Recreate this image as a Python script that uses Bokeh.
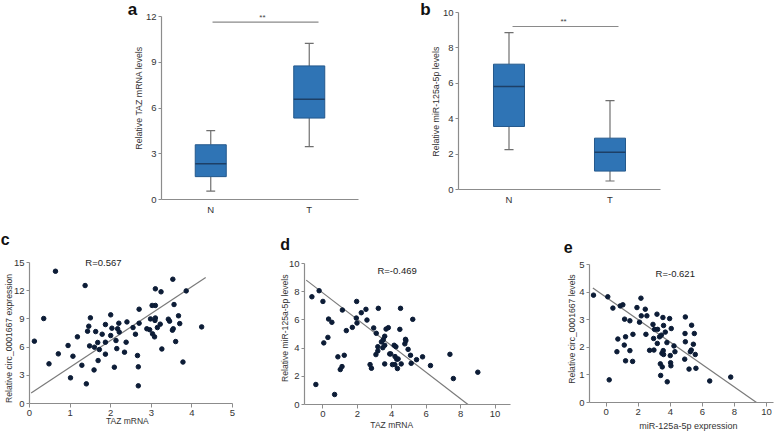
import math
from bokeh.plotting import figure
from bokeh.layouts import column, row
from bokeh.models import Label, FixedTicker
from bokeh.embed import file_html
from bokeh.resources import INLINE

FONT = "Liberation Sans"
AX = "#8c8c8c"
TXT = "#333333"
BOX_FILL = "#2f74b5"
BOX_EDGE = "#24598c"
MED = "#1d3f66"
WHISK = "#6f6f6f"
DOT = "#0c1c36"
FIT = "#7a7a7a"

# ---------------- data ----------------
groups = ["N", "T"]

a_low = [0.55, 3.47]
a_q1 = [1.50, 5.34]
a_med = [2.34, 6.58]
a_q3 = [3.59, 8.76]
a_high = [4.51, 10.24]
a_ticks = [0, 3, 6, 9, 12]
a_ylabel = "Relative  TAZ  mRNA levels"

b_low = [2.25, 0.48]
b_q1 = [3.56, 1.04]
b_med = [5.82, 2.11]
b_q3 = [7.08, 2.90]
b_high = [8.86, 5.02]
b_ticks = [0, 2, 4, 6, 8, 10]
b_ylabel = "Relative  miR-125a-5p  levels"

sig_text = "**"

c_x = [0.12, 0.35, 0.64, 0.48, 0.71, 0.95, 1.07, 1.18, 1.01, 1.29, 1.37, 1.40, 1.46, 1.43, 1.50,
       1.48, 1.60, 1.59, 1.63, 1.68, 1.72, 1.69, 1.79, 1.87, 1.87, 1.87, 2.00, 2.03, 2.00, 2.09,
       2.13, 2.15, 2.17, 2.20, 2.21, 2.34, 2.38, 2.40, 2.55, 2.61, 2.66, 2.68, 2.68, 2.70, 2.70,
       2.89, 2.96, 2.98, 3.03, 3.02, 3.10, 3.10, 3.08, 3.09, 3.10, 3.15, 3.22, 3.24, 3.26, 3.42,
       3.45, 3.53, 3.52, 3.54, 3.56, 3.60, 3.67, 3.70, 3.78, 3.86, 4.24]
c_y = [6.63, 9.04, 14.07, 4.22, 5.28, 6.17, 5.03, 7.09, 2.73, 4.07, 12.55, 2.09, 8.22, 7.69, 9.11,
       6.13, 5.99, 3.57, 7.65, 6.49, 5.74, 4.57, 7.37, 8.40, 6.52, 5.25, 9.43, 8.01, 7.23, 3.86,
       6.70, 5.84, 7.95, 8.54, 7.60, 5.46, 6.52, 8.68, 8.08, 7.37, 5.10, 3.90, 1.88, 10.03, 8.54,
       7.95, 7.85, 9.00, 7.41, 10.43, 10.43, 12.20, 7.09, 8.84, 9.10, 8.08, 8.44, 11.88, 5.80, 8.97,
       8.76, 13.22, 7.80, 7.95, 10.53, 6.59, 9.33, 8.50, 4.41, 11.98, 8.15]
c_fit_x = [0.04, 4.34]
c_fit_y = [1.13, 13.40]
c_r = "R=0.567"
c_xticks = [0, 1, 2, 3, 4, 5]
c_yticks = [0, 3, 6, 9, 12, 15]
c_xlabel = "TAZ mRNA"
c_ylabel = "Relative circ_0001667  expression"

d_x = [-0.64, -0.22, 0.00, -0.41, 0.05, 0.29, 0.33, 0.52, 0.68, 0.87, 1.01, 1.11, 1.13, 1.24, 1.36,
       1.71, 1.96, 1.94, 1.98, 2.23, 2.50, 2.56, 2.74, 2.82, 2.95, 3.08, 3.10, 3.22, 3.19, 3.19,
       3.40, 3.48, 3.51, 3.59, 3.59, 3.59, 3.67, 3.80, 3.88, 3.94, 4.04, 4.18, 4.14, 4.19, 4.24,
       4.29, 4.33, 4.37, 4.47, 4.51, 4.55, 4.76, 4.80, 4.82, 4.95, 5.09, 5.13, 5.22, 5.44, 5.79,
       6.25, 7.38, 7.58, 9.00]
d_y = [7.64, 8.07, 7.31, 1.42, 4.37, 4.76, 6.06, 5.83, 0.71, 3.38, 2.48, 2.69, 6.70, 3.49, 5.24,
       5.47, 7.31, 6.13, 5.78, 6.51, 6.75, 5.99, 2.83, 2.57, 5.43, 3.54, 5.05, 6.82, 3.80, 4.10,
       4.44, 4.03, 4.60, 4.84, 4.20, 2.88, 5.35, 5.45, 3.59, 3.59, 2.83, 2.83, 4.20, 3.40, 4.10,
       3.21, 2.55, 3.23, 5.33, 6.82, 2.88, 4.30, 4.62, 4.53, 3.91, 3.49, 2.92, 6.04, 3.18, 3.38,
       2.76, 3.56, 1.84, 2.29]
d_fit_x = [-0.97, 8.43]
d_fit_y = [8.82, 0.0]
d_r = "R=-0.469"
d_xticks = [0, 2, 4, 6, 8, 10]
d_yticks = [0, 2, 4, 6, 8, 10]
d_xlabel = "TAZ mRNA"
d_ylabel = "Relative miR-125a-5p levels"

e_x = [-0.79, 0.10, 0.19, 0.42, 0.67, 0.73, 0.88, 1.04, 1.15, 1.13, 1.21, 1.21, 1.48, 1.48, 1.67,
       1.65, 1.92, 2.08, 2.17, 2.19, 2.44, 2.54, 2.48, 2.71, 2.92, 2.96, 3.02, 2.98, 3.17, 3.19,
       3.21, 3.33, 3.38, 3.40, 3.44, 3.48, 3.50, 3.54, 3.58, 3.56, 3.58, 3.69, 3.79, 3.81, 3.96,
       4.00, 4.02, 4.04, 4.06, 4.23, 4.29, 4.94, 4.92, 4.94, 4.90, 5.17, 5.33, 5.31, 5.25, 5.44,
       5.50, 5.56, 5.60, 6.46, 7.77]
e_y = [3.89, 3.83, 0.82, 3.42, 1.84, 2.30, 3.50, 3.54, 3.02, 2.08, 2.38, 1.51, 2.96, 1.88, 2.47,
       1.49, 3.44, 2.91, 3.78, 3.14, 3.38, 3.14, 2.47, 1.89, 2.83, 2.32, 2.65, 1.90, 3.20, 2.14,
       2.65, 2.38, 1.40, 0.98, 2.44, 1.78, 1.29, 3.08, 2.79, 1.88, 1.74, 2.55, 2.17, 0.75, 3.04,
       1.70, 1.44, 1.33, 2.68, 2.05, 1.84, 3.10, 2.50, 2.20, 1.57, 1.21, 2.80, 1.90, 1.84, 2.11,
       2.50, 1.74, 1.24, 0.78, 0.92]
e_fit_x = [-0.83, 9.38]
e_fit_y = [4.15, 0.0]
e_r = "R=-0.621"
e_xticks = [0, 2, 4, 6, 8, 10]
e_yticks = [0, 1, 2, 3, 4, 5]
e_xlabel = "miR-125a-5p expression"
e_ylabel = "Relative circ_0001667 levels"


# ---------------- helpers ----------------
def style(p, xticks, yticks, x_tick_out=4):
    p.outline_line_color = None
    p.grid.visible = False
    p.background_fill_color = "white"
    p.border_fill_color = "white"
    p.xaxis.ticker = FixedTicker(ticks=xticks)
    p.yaxis.ticker = FixedTicker(ticks=yticks)
    for ax in (p.xaxis[0], p.yaxis[0]):
        ax.axis_line_color = AX
        ax.axis_line_width = 1.2
        ax.major_tick_line_color = AX
        ax.minor_tick_line_color = None
        ax.major_tick_in = 0
        ax.major_tick_out = 4
        ax.major_label_text_font = FONT
        ax.major_label_text_font_size = "9.5px"
        ax.major_label_text_color = TXT
        ax.axis_label = None
    xa, ya = p.xaxis[0], p.yaxis[0]
    xa.major_tick_out = x_tick_out
    xa.major_label_standoff = 2
    ya.major_tick_out = 3
    ya.major_label_standoff = 2


def side_label(p, place, txt, x, y, size, bold=False, baseline="middle", color="#111111", angle=0.0):
    p.add_layout(Label(x=x, y=y, text=txt, text_font=FONT,
                       text_font_style="bold" if bold else "normal",
                       text_font_size=size, text_color=color, angle=angle,
                       text_align="center", text_baseline=baseline), place)


def make_fig(width, height, bl, br, bt, bb, xr, yr):
    return figure(width=width, height=height, x_range=xr, y_range=yr,
                  output_backend="svg", toolbar_location=None, frame_align=False,
                  min_border_left=bl, min_border_right=br,
                  min_border_top=bt, min_border_bottom=bb)


def box_panel(width, height, bl, br, bt, bb, ymax, yticks, ylabel, ylab_xy,
              low, q1, med, q3, high, bw, sig_x, sig_y, sig_xy, sig_place, let, let_xy):
    p = make_fig(width, height, bl, br, bt, bb, (0.5, 2.5), (0, ymax))
    pos = [i + 1 for i in range(len(groups))]
    cap = 0.045
    p.segment(pos, low, pos, q1, line_color=WHISK, line_width=1.2)
    p.segment(pos, q3, pos, high, line_color=WHISK, line_width=1.2)
    p.segment([x - cap for x in pos], low, [x + cap for x in pos], low, line_color=WHISK, line_width=1.2)
    p.segment([x - cap for x in pos], high, [x + cap for x in pos], high, line_color=WHISK, line_width=1.2)
    p.vbar(x=pos, width=bw, bottom=q1, top=q3, fill_color=BOX_FILL, line_color=BOX_EDGE, line_width=1)
    p.segment([x - bw / 2 for x in pos], med, [x + bw / 2 for x in pos], med,
              line_color=MED, line_width=1.5)
    p.line(sig_x, [sig_y, sig_y], line_color="#8a8a8a", line_width=1.2)
    style(p, pos, yticks, x_tick_out=0)
    p.xaxis.major_label_standoff = 4
    p.xaxis.major_label_overrides = {pos[i]: groups[i] for i in range(len(groups))}
    side_label(p, "left", ylabel, ylab_xy[0], ylab_xy[1], "8.8px", color=TXT, angle=math.pi / 2)
    if sig_place == "center":
        p.add_layout(Label(x=sig_xy[0], y=sig_xy[1], text=sig_text, text_font=FONT,
                           text_font_size="8px", text_color="#444444",
                           text_align="center", text_baseline="middle"))
    else:
        side_label(p, sig_place, sig_text, sig_xy[0], sig_xy[1], "8px", color="#444444")
    side_label(p, "left", let, let_xy[0], let_xy[1], "17px", bold=True)
    return p


def scatter_panel(width, height, bl, br, bt, bb, xr, yr, xticks, yticks,
                  xlabel, xlab_xy, xlab_size, ylabel, ylab_xy,
                  xs, ys, fx, fy, rtxt, r_xy, let, let_xy):
    p = make_fig(width, height, bl, br, bt, bb, xr, yr)
    p.line(fx, fy, line_color=FIT, line_width=1.2)
    p.scatter(xs, ys, size=4.5, fill_color=DOT, line_color=DOT)
    style(p, xticks, yticks)
    side_label(p, "below", xlabel, xlab_xy[0], xlab_xy[1], xlab_size, color=TXT)
    side_label(p, "left", ylabel, ylab_xy[0], ylab_xy[1], "8.6px", color=TXT, angle=math.pi / 2)
    side_label(p, "above", rtxt, r_xy[0], r_xy[1], "9.5px", color="#222222")
    side_label(p, "above", let, let_xy[0], let_xy[1], "16px", bold=True)
    return p


pa = box_panel(400, 220, 161, 42, 16, 21, 12, a_ticks, a_ylabel, (0.267, 6.82),
               a_low, a_q1, a_med, a_q3, a_high, 0.315, [1.018, 2.094], 11.63, (1.525, 11.96),
               "above", "a", (0.206, 12.44))
pb = box_panel(384, 220, 58, 124, 12, 31, 10, b_ticks, b_ylabel, (0.282, 5.1),
               b_low, b_q1, b_med, b_q3, b_high, 0.307, [1.035, 2.084], 9.21, (1.54, 9.51),
               "center", "b", (0.173, 10.19))

pc = scatter_panel(262, 213, 29, 30, 42, 30, (0, 5), (0, 15), c_xticks, c_yticks,
                   c_xlabel, (2.41, -1.83), "8.5px", c_ylabel, (-0.517, 7.05),
                   c_x, c_y, c_fit_x, c_fit_y, c_r, (1.82, 15.03), "c", (-0.6, 17.48))
pd = scatter_panel(270, 213, 42, 22, 43, 29, (-1.07, 10.9), (0, 10), d_xticks, d_yticks,
                   d_xlabel, (4.0, -1.42), "8.5px", d_ylabel, (-2.197, 5.41),
                   d_x, d_y, d_fit_x, d_fit_y, d_r, (4.31, 9.48), "d", (-2.2, 11.32))
pe = scatter_panel(252, 213, 57, 11, 44, 31, (-1.04, 10.44), (0, 5), e_xticks, e_yticks,
                   e_xlabel, (5.13, -0.84), "9px", e_ylabel, (-2.14, 2.66),
                   e_x, e_y, e_fit_x, e_fit_y, e_r, (4.31, 4.67), "e", (-2.375, 5.65))

layout = column(row(pa, pb, spacing=0), row(pc, pd, pe, spacing=0), spacing=0)

open("out.html", "w").write(file_html(layout, INLINE))
